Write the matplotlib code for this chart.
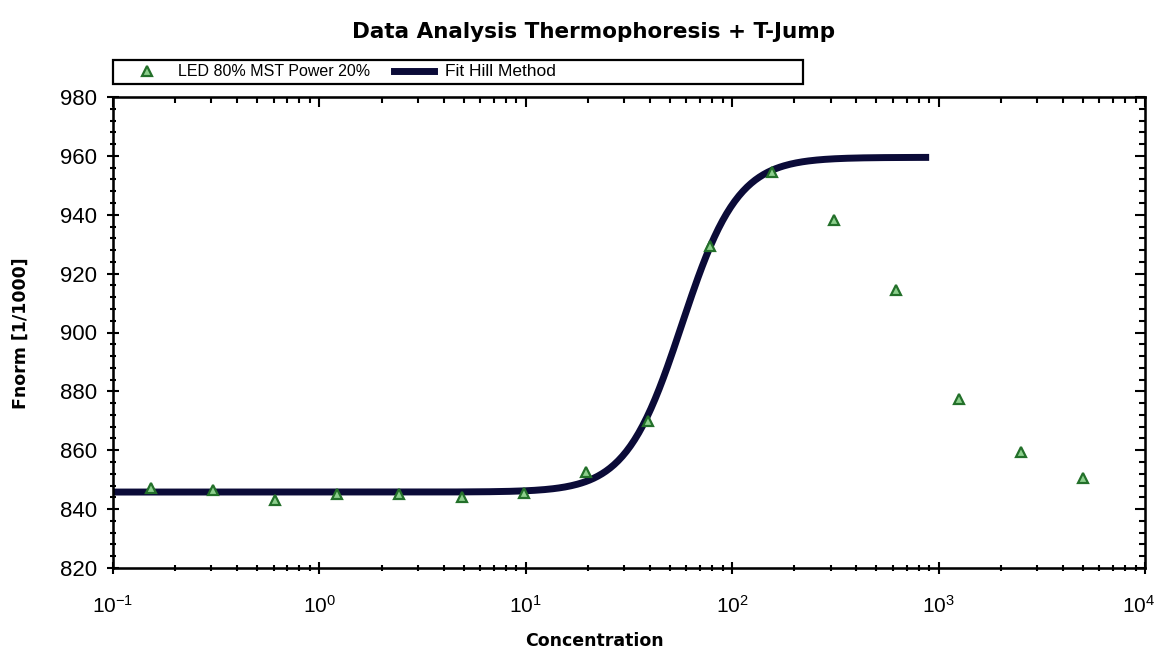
import numpy as np
import matplotlib
matplotlib.use("Agg")
import matplotlib.pyplot as plt
from matplotlib.lines import Line2D
from matplotlib.patches import Rectangle
from matplotlib.ticker import MultipleLocator, LogLocator

plt.rcParams['font.family'] = ['Liberation Sans', 'DejaVu Sans']
plt.rcParams['mathtext.fontset'] = 'custom'
plt.rcParams['mathtext.rm'] = 'Liberation Sans'
plt.rcParams['mathtext.it'] = 'Liberation Sans'

# Serial 1:2 dilution series
concentration = [0.1526, 0.3052, 0.6104, 1.221, 2.441, 4.883, 9.766, 19.53,
                 39.06, 78.13, 156.3, 312.5, 625, 1250, 2500, 5000]
fnorm = [847.2, 846.4, 843.0, 845.0, 845.0, 844.2, 845.6, 852.5,
         870.0, 929.4, 954.5, 938.2, 914.5, 877.4, 859.4, 850.6]
decades = [-1, 0, 1, 2, 3, 4]

# Hill fit parameters
fit_bottom = 845.8
fit_top = 959.5
fit_ec50 = 57.0
fit_hill = 3.2
fit_range = (0.1, 900)

x_fit = np.logspace(np.log10(fit_range[0]), np.log10(fit_range[1]), 400)
y_fit = fit_bottom + (fit_top - fit_bottom) / (1 + (fit_ec50 / x_fit) ** fit_hill)

fig = plt.figure(figsize=(11.59, 6.55), dpi=100)
ax = fig.add_axes([113 / 1159, 1 - 568 / 655, (1145 - 113) / 1159, (568 - 97) / 655])

line_color = '#0b0b38'
tri_face, tri_edge = '#8ccf8c', '#23702a'
ax.plot(x_fit, y_fit, color=line_color, lw=5, solid_capstyle='butt', zorder=2)
ax.plot(concentration, fnorm, ls='none', marker='^', ms=7.5,
        mfc=tri_face, mec=tri_edge, mew=1.6, zorder=3)

ax.set_xscale('log')
ax.set_xlim(0.1, 1e4)
ax.set_ylim(820, 980)
ax.yaxis.set_major_locator(MultipleLocator(20))
ax.yaxis.set_minor_locator(MultipleLocator(4))
ax.xaxis.set_major_locator(LogLocator(base=10))
ax.xaxis.set_minor_locator(LogLocator(base=10, subs=np.arange(2, 10)))

for s in ax.spines.values():
    s.set_linewidth(1.8)

ax.tick_params(which='both', direction='inout', top=False, right=False,
               width=1.5, labelsize=16, labelbottom=False)
ax.tick_params(which='major', length=9)
ax.tick_params(which='minor', length=5)
ax.tick_params(axis='y', pad=7)

# decade labels, the last one right-aligned so it stays inside the figure
for e in decades:
    last = e == decades[-1]
    ax.text(10.0 ** e * (1.12 if last else 1.0), -0.057, f'$10^{{{e}}}$',
            transform=ax.get_xaxis_transform(),
            ha='right' if last else 'center', va='top', fontsize=15)

# inward ticks on the top and right frame
ax_top = ax.twiny()
ax_top.set_xscale('log')
ax_top.set_xlim(ax.get_xlim())
ax_top.xaxis.set_minor_locator(LogLocator(base=10, subs=np.arange(2, 10)))
ax_top.tick_params(which='both', direction='in', labeltop=False, width=1.5)
ax_top.tick_params(which='major', length=7)
ax_top.tick_params(which='minor', length=4)
ax_right = ax.twinx()
ax_right.set_ylim(ax.get_ylim())
ax_right.yaxis.set_major_locator(MultipleLocator(20))
ax_right.yaxis.set_minor_locator(MultipleLocator(4))
ax_right.tick_params(which='both', direction='in', labelright=False, width=1.5)
ax_right.tick_params(which='major', length=7)
ax_right.tick_params(which='minor', length=4)

fig.text(594 / 1159, 1 - 32 / 655, 'Data Analysis Thermophoresis + T-Jump',
         ha='center', va='center', fontsize=15.5, fontweight='bold', family='DejaVu Sans')
fig.text(594 / 1159, 1 - 641 / 655, 'Concentration', ha='center', va='center',
         fontsize=12.5, fontweight='bold', family='DejaVu Sans')
fig.text(21 / 1159, 1 - 333 / 655, 'Fnorm [1/1000]', ha='center', va='center',
         rotation=90, fontsize=12.5, fontweight='bold', family='DejaVu Sans')

# legend box above the axes
fig.patches.append(Rectangle((113 / 1159, 1 - 84 / 655), (803 - 113) / 1159, 24 / 655,
                             transform=fig.transFigure, fill=False, ec='black', lw=1.6))
handles = [
    Line2D([], [], ls='none', marker='^', ms=7.5, mfc=tri_face, mec=tri_edge, mew=1.6),
    Line2D([], [], color=line_color, lw=5),
]
leg = fig.legend(handles, ['LED 80% MST Power 20%', 'Fit Hill Method'], ncol=2,
                 loc='center left', bbox_to_anchor=(127 / 1159, 1 - 72 / 655),
                 frameon=False, fontsize=11.5, handlelength=2.5, columnspacing=1.5,
                 handletextpad=0.7, borderpad=0, borderaxespad=0)
leg.get_texts()[1].set_fontsize(12.5)

fig.savefig('out.png', dpi=100)
